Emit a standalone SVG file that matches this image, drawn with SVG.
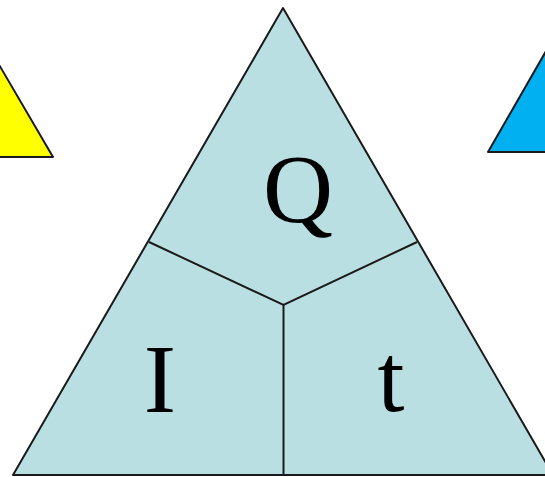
<svg xmlns="http://www.w3.org/2000/svg" width="545" height="477" viewBox="0 0 545 477">
<style>
.edge{stroke:#1a1a1a;stroke-width:2;stroke-linejoin:round}
.div{stroke:#1a1a1a;stroke-width:2;fill:none}
.lbl{font-family:"Liberation Serif","Times New Roman",serif;font-size:97px;fill:#000;text-anchor:middle}
</style>
<rect width="545" height="477" fill="#fff"/>
<g id="yellow-triangle"><polygon class="edge" points="-40,-2 53,157 -130,157" fill="#FFFF00"/></g>
<g id="blue-triangle"><polygon class="edge" points="580,-8 488,152 680,152" fill="#00B0F0"/></g>
<g id="main-triangle"><polygon class="edge" points="283,8 553,475 13,475" fill="#B9DFE3"/></g>
<g id="connectors">
<polyline class="div" points="149,242 283.5,305 417,242"/>
<line class="div" x1="283.5" y1="305" x2="283.5" y2="475"/>
</g>
<g id="node-Q"><text class="lbl" x="298" y="222">Q</text></g>
<g id="node-I"><text class="lbl" x="160" y="412">I</text></g>
<g id="node-t"><text class="lbl" x="391" y="411">t</text></g>
</svg>
